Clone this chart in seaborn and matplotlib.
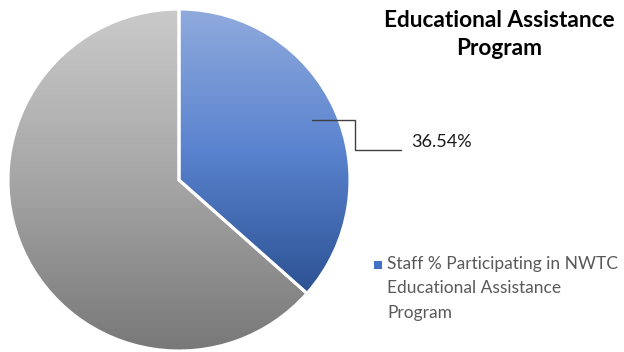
import numpy as np
import matplotlib
matplotlib.use("Agg")
import matplotlib.pyplot as plt
from matplotlib.patches import Rectangle
import seaborn as sns

# Chart data
categories = ["Staff % Participating in NWTC Educational Assistance Program", "Not participating"]
shares = [36.54, 63.46]
label_text = ["36.54%", None]
title_text = "Educational Assistance\nProgram"
legend_text = "Staff % Participating in NWTC\nEducational Assistance\nProgram"

sns.set_theme(style="white")
plt.rcParams["font.family"] = ["Lato", "DejaVu Sans"]

W, H = 624, 352
fig = plt.figure(figsize=(W / 100, H / 100), dpi=100)
ax = fig.add_axes([0, 0, 1, 1])

cx, cy, R = 179, 172, 171

wedges, _ = ax.pie(shares, center=(cx, cy), radius=R, startangle=90, counterclock=False,
                   colors=["#4472c4", "#a5a5a5"],
                   wedgeprops=dict(edgecolor="white", linewidth=2.2), frame=True)

# vertical gradient fills, each clipped to its wedge
grad_maps = [
    sns.blend_palette(["#2c5293", "#5a83cf", "#90abdd"], as_cmap=True),
    sns.blend_palette(["#787878", "#a6a6a6", "#cacaca"], as_cmap=True),
]
ramp = np.linspace(0, 1, 256).reshape(-1, 1)
for w, cmap in zip(wedges, grad_maps):
    bb = w.get_path().get_extents(w.get_patch_transform())
    im = ax.imshow(ramp, cmap=cmap, origin="lower", aspect="auto",
                   extent=[bb.x0, bb.x1, bb.y0, bb.y1], zorder=1, interpolation="bilinear")
    im.set_clip_path(w)
    w.set_facecolor("none")
    w.set_zorder(2)
ax.set_xlim(0, W)
ax.set_ylim(0, H)
ax.set_aspect("equal")
ax.axis("off")

# leader line and value label for the participating slice
w0 = wedges[0]
mid = np.deg2rad((w0.theta1 + w0.theta2) / 2)
ax_x = cx + 0.855 * R * np.cos(mid)
ax_y = cy + 0.855 * R * np.sin(mid)
elbow_x, low_y, end_x = 355, 202, 401
ax.plot([ax_x, elbow_x, elbow_x, end_x], [ax_y, ax_y, low_y, low_y],
        color="#404040", lw=1.0, zorder=3, solid_joinstyle="miter")
ax.text(411, 210, label_text[0], fontsize=13, color="#1a1a1a", va="center", ha="left")

# title
ax.text(499, H - 34.5, title_text, fontsize=16.3, fontweight="bold", color="#000000",
        ha="center", va="center", linespacing=1.4)

# legend entry (participating share only): swatch beside the first line
ax.add_patch(Rectangle((374, H - 269), 8, 8, facecolor="#4472c4", edgecolor="none", zorder=3))
ax.text(387, H - 256, legend_text, fontsize=12.5, color="#595959",
        ha="left", va="top", linespacing=1.64)

fig.savefig("out.png", dpi=100, facecolor="white")
